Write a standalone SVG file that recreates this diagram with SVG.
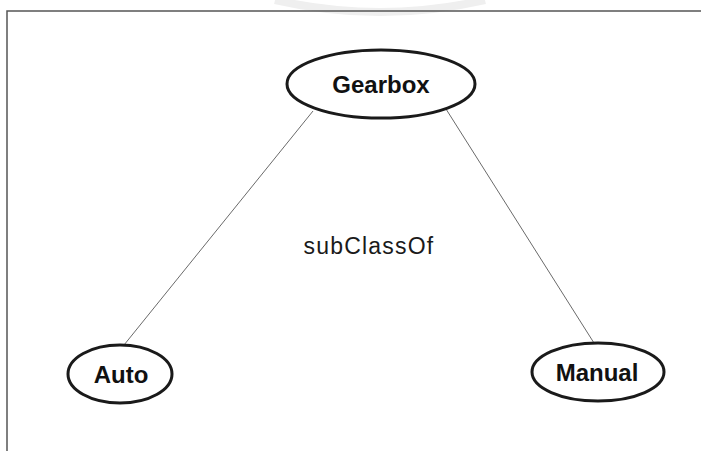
<svg xmlns="http://www.w3.org/2000/svg" width="701" height="451" viewBox="0 0 701 451">
  <style>
    .node ellipse { fill: #ffffff; stroke: #1a1a1a; stroke-width: 3; }
    .node text { font-family: "Liberation Sans", Arial, sans-serif; font-weight: bold; font-size: 24px; fill: #111111; text-anchor: middle; dominant-baseline: central; }
    .edge { stroke: #6a6a6a; stroke-width: 1; fill: none; }
    .label { font-family: "Liberation Sans", Arial, sans-serif; font-size: 23px; letter-spacing: 1.2px; fill: #1a1a1a; text-anchor: middle; dominant-baseline: central; }
  </style>
  <rect x="0" y="0" width="701" height="451" fill="#ffffff"/>
  <!-- faint arc along the top edge -->
  <path d="M 275 0 Q 380 24 485 0" fill="none" stroke="#efefef" stroke-width="8"/>
  <!-- frame -->
  <path d="M 701 11 H 7 V 451" fill="none" stroke="#555555" stroke-width="1.5"/>

  <g id="connectors">
    <line class="edge" x1="313" y1="111" x2="124" y2="345"/>
    <line class="edge" x1="446" y1="109" x2="594" y2="343"/>
    <text class="label" x="369" y="246">subClassOf</text>
  </g>

  <g id="gearbox" class="node">
    <ellipse cx="381" cy="84" rx="94" ry="34"/>
    <text x="381" y="84">Gearbox</text>
  </g>
  <g id="auto" class="node">
    <ellipse cx="120" cy="374" rx="52" ry="29"/>
    <text x="121" y="374">Auto</text>
  </g>
  <g id="manual" class="node">
    <ellipse cx="598" cy="372" rx="66" ry="29"/>
    <text x="597" y="372">Manual</text>
  </g>
</svg>
